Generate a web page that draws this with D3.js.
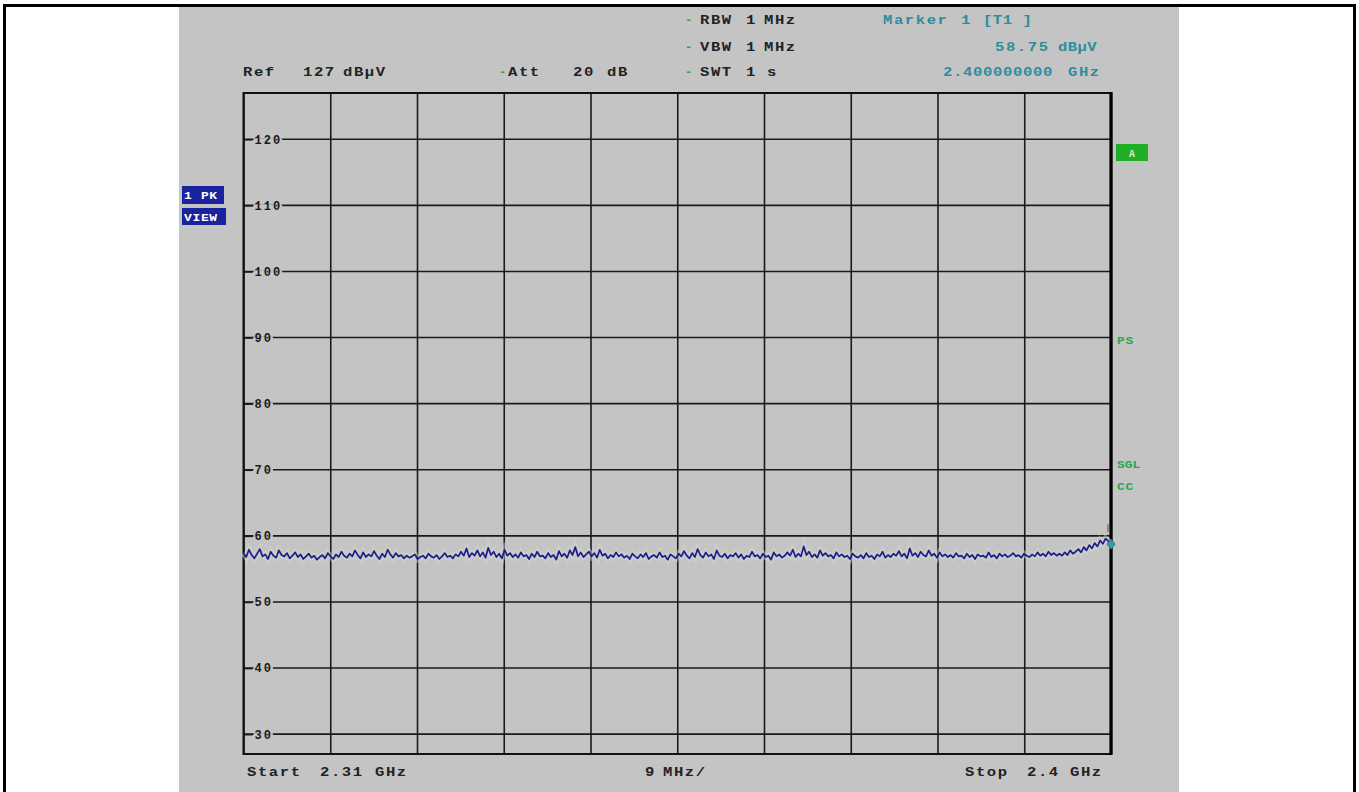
<!DOCTYPE html>
<html>
<head>
<meta charset="utf-8">
<script src="https://cdn.jsdelivr.net/npm/d3@7"></script>
<style>
  html, body { margin: 0; padding: 0; background: #fff; }
  svg { display: block; }
  text { font-family: "Liberation Mono", "DejaVu Sans Mono", monospace; }
</style>
</head>
<body>
<script>
// Spectrum analyzer sweep: 2.31 GHz .. 2.4 GHz, reference level 127 dBµV
const startFreq = 2310;          // MHz
const stopFreq = 2400;           // MHz
const refLevel = 127;            // dBµV (top of screen)
const bottomLevel = 27;          // dBµV (bottom of screen)
const levelTicks = [120, 110, 100, 90, 80, 70, 60, 50, 40, 30];
const freqDivs = [2310, 2319, 2328, 2337, 2346, 2355, 2364, 2373, 2382, 2391, 2400];

// Peak-detected trace levels (dBµV), equally spaced sweep points
const traceLevels = [
  57.4,56.8,57.9,57.1,56.6,57.3,58.0,56.9,57.2,56.5,57.6,57.0,56.7,57.8,57.1,56.9,57.4,56.6,57.0,57.5,
  56.8,57.2,56.5,56.9,57.3,56.7,57.0,56.4,56.8,57.1,56.6,57.4,56.9,56.5,57.2,56.8,57.6,57.0,56.7,57.3,
  56.9,57.8,57.1,56.6,57.5,56.8,57.2,56.9,57.7,57.0,56.5,57.3,56.8,57.9,57.2,56.7,57.4,56.9,57.1,56.6,
  57.0,56.7,56.9,57.2,56.5,56.8,57.0,56.6,57.3,56.9,56.7,57.1,56.5,56.9,57.4,56.8,57.0,56.6,57.2,56.9,
  57.6,57.0,58.1,56.8,57.4,57.0,57.8,56.9,57.5,56.7,58.2,57.1,57.6,56.8,57.3,56.6,57.9,57.0,57.4,56.8,
  57.2,56.7,57.5,56.9,57.1,56.5,57.3,56.8,57.6,56.9,57.0,56.6,57.4,56.8,57.1,56.4,57.7,56.9,57.3,56.7,
  57.8,57.1,58.3,56.9,57.5,56.8,57.2,57.6,56.9,57.4,56.7,57.9,57.0,57.3,56.6,57.1,56.8,57.5,56.9,57.2,
  56.7,57.0,56.5,57.3,56.9,56.6,57.2,56.8,57.4,56.5,56.9,57.1,56.7,57.5,56.8,57.0,56.4,57.2,56.9,56.6,
  57.3,56.9,57.7,57.0,56.6,57.4,56.8,58.0,57.1,56.7,57.5,56.9,57.2,56.5,57.8,57.0,56.8,57.3,56.6,57.1,
  56.9,57.4,56.7,57.2,56.5,57.0,56.8,57.6,56.9,57.1,56.6,57.3,56.8,57.0,56.4,57.5,56.9,57.2,56.7,57.0,
  57.5,57.0,57.9,56.8,57.3,56.9,58.4,57.1,57.6,56.8,57.2,56.7,57.8,57.0,57.4,56.9,57.1,56.6,57.5,56.9,
  57.2,56.8,57.0,56.5,57.3,56.9,56.7,57.1,56.6,57.4,56.8,57.0,56.5,57.2,56.9,57.6,56.7,57.1,56.8,57.3,
  57.0,57.7,56.9,57.3,56.6,58.1,57.0,57.4,56.8,57.6,57.1,56.9,57.8,57.0,57.3,56.7,57.5,56.9,57.2,56.8,
  57.1,56.7,57.4,56.9,57.0,56.6,57.3,56.8,57.1,56.5,57.2,56.9,57.0,56.7,57.5,56.8,57.1,56.6,57.3,56.9,
  57.2,56.8,57.0,57.4,56.9,57.1,56.7,57.3,57.0,56.8,57.2,56.9,57.5,57.0,57.3,56.9,57.6,57.1,57.4,57.0,
  57.3,57.0,57.5,57.1,57.8,57.3,57.6,58.0,57.5,58.3,57.8,58.6,58.1,58.9,58.4,59.3,58.8,59.6,59.2,58.75
];

// Marker 1 on trace 1
const markerFreq = 2400;          // MHz
const markerLevel = 58.75;        // dBµV

const W = 1359, H = 792;
const svg = d3.select("body").append("svg").attr("width", W).attr("height", H);

// outer frame and instrument screen
svg.append("rect").attr("x", 4.5).attr("y", 5.5).attr("width", 1350).attr("height", 800)
  .attr("fill", "#fff").attr("stroke", "#000").attr("stroke-width", 3);
svg.append("rect").attr("x", 179).attr("y", 7).attr("width", 1000).attr("height", 790)
  .attr("fill", "#c4c4c4");

const plot = { left: 243.5, right: 1111, top: 93, bottom: 754 };

const x = d3.scaleLinear().domain([startFreq, stopFreq]).range([plot.left, plot.right]);
const y = d3.scaleLinear().domain([bottomLevel, refLevel]).range([plot.bottom, plot.top]);
const xi = d3.scaleLinear().domain([0, traceLevels.length - 1]).range([startFreq, stopFreq]);

// vertical grid (frequency divisions)
svg.append("g")
  .attr("transform", `translate(0,${plot.bottom})`)
  .call(d3.axisBottom(x).tickValues(freqDivs).tickSize(-(plot.bottom - plot.top)).tickFormat(""))
  .call(g => g.select(".domain").remove())
  .call(g => g.selectAll("line").attr("stroke", "#1a1a1a").attr("stroke-width", 1.6));

// horizontal grid (level divisions)
svg.append("g")
  .selectAll("line").data(levelTicks).join("line")
  .attr("x1", plot.left).attr("x2", plot.right)
  .attr("y1", d => y(d)).attr("y2", d => y(d))
  .attr("stroke", "#1a1a1a").attr("stroke-width", 1.6);

// level labels, knocked out of the grid line
const yAxis = svg.append("g")
  .attr("transform", `translate(${plot.left},0)`)
  .call(d3.axisRight(y).tickValues(levelTicks).tickSize(9).tickPadding(2))
  .call(g => g.select(".domain").remove())
  .call(g => g.selectAll("line").attr("stroke", "#1a1a1a").attr("stroke-width", 1.6))
  .call(g => g.selectAll("text").attr("fill", "#1a1a1a").attr("font-size", 12)
    .attr("font-weight", "bold").attr("letter-spacing", 2)
    .attr("font-family", "Liberation Mono, monospace"));
yAxis.selectAll(".tick").each(function () {
  const t = d3.select(this).select("text");
  const bb = t.node().getBBox();
  d3.select(this).insert("rect", "text")
    .attr("x", bb.x - 1).attr("y", -1.5).attr("width", bb.width + 1).attr("height", 3)
    .attr("fill", "#c4c4c4");
});

// screen border
svg.append("rect").attr("x", plot.left).attr("y", plot.top)
  .attr("width", plot.right - plot.left).attr("height", plot.bottom - plot.top)
  .attr("fill", "none").attr("stroke", "#111").attr("stroke-width", 2);
svg.append("line").attr("x1", plot.right).attr("x2", plot.right)
  .attr("y1", plot.top - 1).attr("y2", plot.bottom + 1)
  .attr("stroke", "#000").attr("stroke-width", 3.2);

// trace
const line = d3.line().x((d, i) => x(xi(i))).y(d => y(d));
svg.append("path").datum(traceLevels).attr("d", line)
  .attr("fill", "none").attr("stroke", "#d8d8cc").attr("stroke-width", 6).attr("opacity", 0.45);
svg.append("path").datum(traceLevels).attr("d", line)
  .attr("fill", "none").attr("stroke", "#1c1c8e").attr("stroke-width", 1.7)
  .attr("stroke-linejoin", "round");

// marker symbol
const mx = x(markerFreq), my = y(markerLevel);
svg.append("path")
  .attr("d", `M${mx - 4},${my} L${mx},${my - 5} L${mx + 4},${my} L${mx},${my + 5} Z`)
  .attr("fill", "#3a9aa8").attr("stroke", "#2a7a88").attr("stroke-width", 1);
svg.append("line").attr("x1", mx - 3).attr("x2", mx - 3).attr("y1", my - 20).attr("y2", my - 12)
  .attr("stroke", "#555").attr("stroke-width", 1);

// annotation text in a wide instrument font (glyphs stretched horizontally)
function label(txt, tx, ty, opts = {}) {
  const sx = opts.sx || 1.3;
  return svg.append("text")
    .attr("transform", `translate(${tx},${ty}) scale(${sx},1)`)
    .attr("font-size", opts.size || 12).attr("font-weight", "bold")
    .attr("fill", opts.color || "#222")
    .attr("letter-spacing", opts.ls !== undefined ? opts.ls : 1.2)
    .attr("text-anchor", opts.anchor || "start")
    .text(txt);
}
const green = "#2aa84a";
const teal = "#2e8c9c";

label("Ref", 243, 76); label("127", 303, 76); label("dBµV", 343, 76);
label("-", 499, 76, { color: green, ls: 0, sx: 1 }); label("Att", 508, 76);
label("20", 573, 76); label("dB", 607, 76);

label("-", 685, 24, { color: green, ls: 0, sx: 1 }); label("RBW", 700, 24); label("1", 746, 24); label("MHz", 764, 24);
label("-", 685, 51, { color: green, ls: 0, sx: 1 }); label("VBW", 700, 51); label("1", 746, 51); label("MHz", 764, 51);
label("-", 685, 76, { color: green, ls: 0, sx: 1 }); label("SWT", 700, 76); label("1", 746, 76); label("s", 767, 76);

label("Marker", 883, 24, { color: teal }); label("1", 961, 24, { color: teal });
label("[T1 ]", 983, 24, { color: teal, ls: 0.4 });
label("58.75", 995, 51, { color: teal }); label("dBµV", 1058, 51, { color: teal, ls: 0.3 });
label("2.400000000", 943, 76, { color: teal, ls: 0.5 }); label("GHz", 1068, 76, { color: teal });

label("Start", 247, 776); label("2.31", 320, 776); label("GHz", 375, 776);
label("9", 645, 776); label("MHz/", 663, 776);
label("Stop", 965, 776); label("2.4", 1027, 776); label("GHz", 1070, 776);

// trace / detector boxes on the left
const navy = "#1b229e";
svg.append("rect").attr("x", 182).attr("y", 186).attr("width", 42).attr("height", 18).attr("fill", navy);
label("1 PK", 184, 199, { color: "#fff", size: 10, ls: 0.5 });
svg.append("rect").attr("x", 182).attr("y", 208).attr("width", 44).attr("height", 17).attr("fill", navy);
label("VIEW", 184, 221, { color: "#fff", size: 10, ls: 0.5 });

// status enhancement labels on the right
svg.append("rect").attr("x", 1116).attr("y", 144).attr("width", 32).attr("height", 17).attr("fill", "#1fae24");
label("A", 1132, 157, { color: "#cfe8cf", size: 10, anchor: "middle", ls: 0, sx: 1 });
label("PS", 1117, 344, { color: green, size: 10, ls: 0.5 });
label("SGL", 1117, 468, { color: green, size: 10, ls: 0 });
label("CC", 1117, 490, { color: green, size: 10, ls: 0.5 });
</script>
</body>
</html>
